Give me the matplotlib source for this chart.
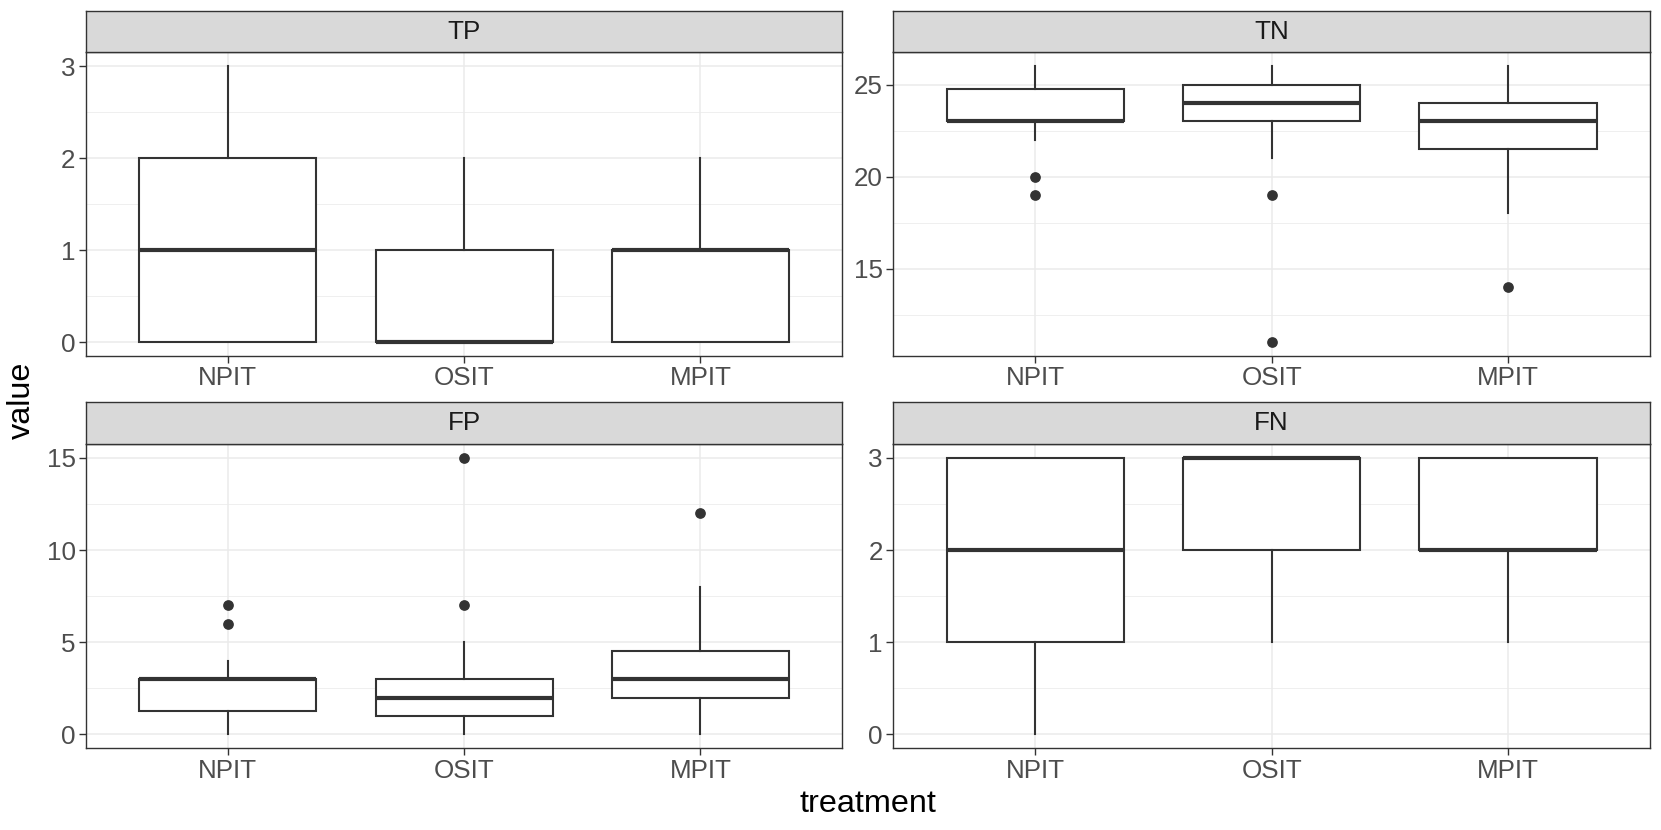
import matplotlib
matplotlib.use("Agg")
import matplotlib.pyplot as plt

plt.rcParams["font.family"] = ["Liberation Sans", "DejaVu Sans"]

treatments = ["NPIT", "OSIT", "MPIT"]
metrics = ["TP", "TN", "FP", "FN"]

# box statistics per metric, one value per treatment
whislo = {"TP": [0, 0, 0], "TN": [22, 21, 18], "FP": [0, 0, 0], "FN": [0, 1, 1]}
q1 = {"TP": [0, 0, 0], "TN": [23, 23, 21.5], "FP": [1.25, 1, 2], "FN": [1, 2, 2]}
med = {"TP": [1, 0, 1], "TN": [23, 24, 23], "FP": [3, 2, 3], "FN": [2, 3, 2]}
q3 = {"TP": [2, 1, 1], "TN": [24.75, 25, 24], "FP": [3, 3, 4.5], "FN": [3, 3, 3]}
whishi = {"TP": [3, 2, 2], "TN": [26, 26, 26], "FP": [4, 5, 8], "FN": [3, 3, 3]}
outliers = {
    "TP": [[], [], []],
    "TN": [[20, 19], [19, 11], [14]],
    "FP": [[7, 6], [15, 7], [12]],
    "FN": [[], [], []],
}
yticks = {"TP": [0, 1, 2, 3], "TN": [15, 20, 25], "FP": [0, 5, 10, 15], "FN": [0, 1, 2, 3]}

W, H = 1661, 830
fig = plt.figure(figsize=(W / 100, H / 100), dpi=100)

# panel boxes in pixels
cols = [(86, 842.3), (893.3, 1650)]
rows = [(52.3, 356), (444, 748.3)]
strip_h = 41.5

dark = "#333333"
grid = "#EBEBEB"

for i, m in enumerate(metrics):
    r, c = divmod(i, 2)
    x0, x1 = cols[c]
    y0, y1 = rows[r]
    ax = fig.add_axes([x0 / W, 1 - y1 / H, (x1 - x0) / W, (y1 - y0) / H])

    stats = []
    for j, t in enumerate(treatments):
        stats.append({
            "label": t,
            "whislo": whislo[m][j], "q1": q1[m][j], "med": med[m][j],
            "q3": q3[m][j], "whishi": whishi[m][j], "fliers": outliers[m][j],
        })
    ax.bxp(
        stats, positions=[1, 2, 3], widths=0.75, showcaps=False,
        patch_artist=True,
        boxprops=dict(facecolor="white", edgecolor=dark, linewidth=1.5),
        whiskerprops=dict(color=dark, linewidth=1.5),
        medianprops=dict(color=dark, linewidth=3.0, solid_capstyle="butt"),
        flierprops=dict(marker="o", markersize=6.7, markerfacecolor=dark,
                        markeredgecolor=dark, linestyle="none"),
    )

    allv = whislo[m] + whishi[m] + [v for f in outliers[m] for v in f]
    lo, hi = min(allv), max(allv)
    pad = (hi - lo) * 0.05

    yt = yticks[m]
    step = yt[1] - yt[0]
    ax.set_yticks(yt)
    ax.set_yticks([v + step / 2 for v in [yt[0] - step] + yt], minor=True)
    ax.set_ylim(lo - pad, hi + pad)
    ax.set_xlim(0.4, 3.6)
    ax.set_xticks([1, 2, 3])
    ax.set_xticklabels(treatments)

    ax.set_axisbelow(True)
    ax.grid(True, which="major", color=grid, linewidth=1.1)
    ax.grid(True, which="minor", axis="y", color=grid, linewidth=0.55)
    ax.tick_params(which="major", direction="out", length=5, width=1.0,
                   color=dark, labelsize=18.7, labelcolor="#4D4D4D", pad=2.5)
    ax.tick_params(which="minor", length=0)
    for s in ax.spines.values():
        s.set_color(dark)
        s.set_linewidth(1.0)

    sax = fig.add_axes([x0 / W, 1 - y0 / H, (x1 - x0) / W, strip_h / H])
    sax.set_facecolor("#D9D9D9")
    sax.set_xticks([])
    sax.set_yticks([])
    for s in sax.spines.values():
        s.set_color(dark)
        s.set_linewidth(1.0)
    sax.text(0.5, 0.5, m, ha="center", va="center", fontsize=18.7,
             color="#1A1A1A", transform=sax.transAxes)

fig.text(868 / W, 1 - 812 / H, "treatment", ha="center", va="baseline",
         fontsize=23.3, color="black")
fig.text(22 / W, 1 - 400 / H, "value", ha="center", va="center",
         rotation=90, fontsize=23.3, color="black")

fig.savefig("out.png", dpi=100, facecolor="white")
